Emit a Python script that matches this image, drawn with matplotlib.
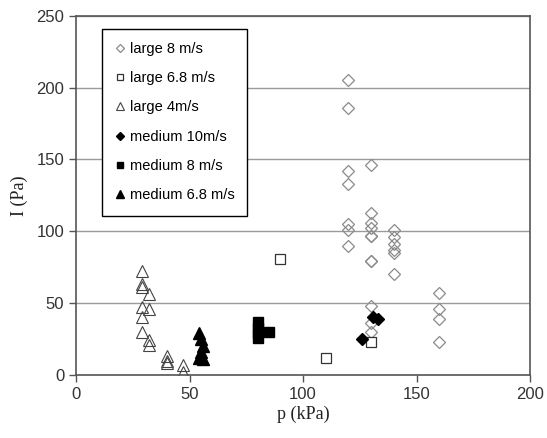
import numpy as np
import matplotlib
matplotlib.use("Agg")
import matplotlib.pyplot as plt

# values
large8_p = [120, 120, 120, 120, 120, 120, 120,
            130, 130, 130, 130, 130, 130, 130, 130, 130, 130, 130,
            140, 140, 140, 140, 140, 140,
            160, 160, 160, 160]
large8_i = [205, 186, 142, 133, 105, 101, 90,
            146, 113, 106, 102, 97, 97, 79, 79, 48, 36, 30,
            101, 96, 91, 87, 85, 70,
            57, 46, 39, 23]

large68_p = [90, 110, 130]
large68_i = [81, 12, 23]

large4_p = [29, 29, 29, 29, 29, 29, 32, 32, 32, 32, 40, 40, 40, 47, 47]
large4_i = [72, 63, 61, 47, 40, 30, 56, 46, 24, 21, 13, 10, 8, 7, 2]

med10_p = [126, 131, 133]
med10_i = [25, 40, 39]

med8_p = [80, 80, 80, 80, 85]
med8_i = [37, 33, 29, 26, 30]

med68_p = [54, 55, 56, 55, 54, 56]
med68_i = [29, 25, 20, 16, 12, 11]

x_ticks = [0, 50, 100, 150, 200]
y_ticks = [0, 50, 100, 150, 200, 250]

fig = plt.figure(figsize=(5.47, 4.38), dpi=100)
ax = fig.add_axes([0.139, 0.144, 0.830, 0.820])

ax.plot(large8_p, large8_i, linestyle='none', marker='D', markersize=6,
        markerfacecolor='none', markeredgecolor='#8a8a8a', markeredgewidth=0.9,
        label='large 8 m/s')
ax.plot(large68_p, large68_i, linestyle='none', marker='s', markersize=7,
        markerfacecolor='white', markeredgecolor='#333333', markeredgewidth=0.9,
        label='large 6.8 m/s')
ax.plot(large4_p, large4_i, linestyle='none', marker='^', markersize=8,
        markerfacecolor='none', markeredgecolor='#444444', markeredgewidth=0.8,
        label='large 4m/s')
ax.plot(med10_p, med10_i, linestyle='none', marker='D', markersize=6,
        color='black', label='medium 10m/s')
ax.plot(med8_p, med8_i, linestyle='none', marker='s', markersize=7,
        color='black', label='medium 8 m/s')
ax.plot(med68_p, med68_i, linestyle='none', marker='^', markersize=8,
        color='black', label='medium 6.8 m/s')

ax.set_xlim(0, 200)
ax.set_ylim(0, 250)
ax.set_xticks(x_ticks)
ax.set_yticks(y_ticks)
ax.yaxis.grid(True, color='#9a9a9a', linewidth=1.0)
ax.set_axisbelow(True)

for s in ax.spines.values():
    s.set_color('#555555')
    s.set_linewidth(1.2)
ax.tick_params(axis='both', colors='#555555', labelcolor='#333333',
               labelsize=12, length=5, width=1.0)
for lab in ax.get_xticklabels() + ax.get_yticklabels():
    lab.set_family('Liberation Sans')

ax.set_xlabel('p (kPa)', family='Liberation Serif', fontsize=13, color='#222222',
              labelpad=3)
ax.set_ylabel('I (Pa)', family='Liberation Serif', fontsize=13, color='#222222',
              labelpad=6)

leg = ax.legend(loc='upper left', bbox_to_anchor=(0.057, 0.964), frameon=True,
                fancybox=False, edgecolor='black', framealpha=1,
                prop={'family': 'Liberation Sans', 'size': 10.5},
                markerscale=0.7, labelspacing=1.05, handlelength=0.7,
                handletextpad=0.3, borderpad=0.9, borderaxespad=0)
leg.get_frame().set_linewidth(1.0)

fig.savefig('out.png', dpi=100)
